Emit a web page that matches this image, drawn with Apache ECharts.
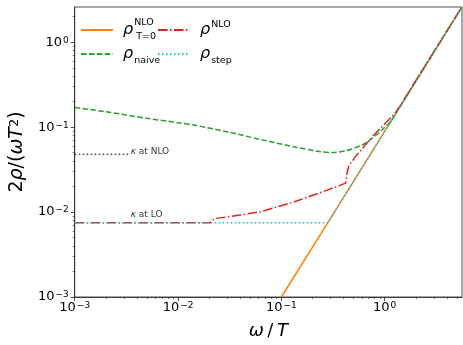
<!DOCTYPE html>
<html><head><meta charset="utf-8">
<script src="https://cdn.jsdelivr.net/npm/echarts@6/dist/echarts.min.js"></script>
<style>html,body{margin:0;padding:0;background:#fff}#c{width:463px;height:345px}</style>
</head><body><div id="c"></div>
<script>
// ---- data ----
const majorTicks = [0.001, 0.01, 0.1, 1];
const majorTickLabels = ['10{s|−3}', '10{s|−2}', '10{s|−1}', '10{s|0}'];
const xMinorTicks = [0.002,0.003,0.004,0.005,0.006,0.007,0.008,0.009,
  0.02,0.03,0.04,0.05,0.06,0.07,0.08,0.09,
  0.2,0.3,0.4,0.5,0.6,0.7,0.8,0.9, 2,3,4,5];
const yMinorTicks = [0.002,0.003,0.004,0.005,0.006,0.007,0.008,0.009,
  0.02,0.03,0.04,0.05,0.06,0.07,0.08,0.09,
  0.2,0.3,0.4,0.5,0.6,0.7,0.8,0.9, 2];

const omegaT0 = [0.1, 0.3, 1, 2, 5.6];
const rhoT0   = [0.001, 0.0085, 0.089, 0.345, 2.6];

const omegaNaive = [0.001,0.002,0.005,0.01,0.0148,0.0305,0.0632,0.131,0.234,0.313,0.419,0.603,0.75,0.933,1.16,1.4,2,5.6];
const rhoNaive   = [0.170,0.152,0.127,0.113,0.105,0.0877,0.0715,0.0589,0.0516,0.0502,0.0526,0.0616,0.0735,0.0917,0.120,0.175,0.355,2.62];

const omegaNLO = [0.001,0.0205,0.0212,0.0228,0.0305,0.0632,0.131,0.27,0.419,0.432,0.451,0.484,0.521,0.603,0.648,0.806,1.0,1.25,1.4,2,5.6];
const rhoNLO   = [0.00748,0.00748,0.0079,0.0084,0.0088,0.0101,0.0131,0.0179,0.0219,0.029,0.0355,0.0395,0.0452,0.055,0.0616,0.0838,0.109,0.145,0.175,0.352,2.61];

const omegaStep = [0.001, 0.281, 1, 2, 5.6];
const rhoStep   = [0.0075, 0.0075, 0.089, 0.345, 2.6];

const omegaKappaNLO = [0.001, 0.0034];
const rhoKappaNLO   = [0.048, 0.048];

const kappaOmega  = [0.0034, 0.0034];
const kappaRho    = [0.048, 0.0075];
const kappaLabels = ['{i|κ} at NLO', '{i|κ} at LO'];

const legendLabels = {
  rhoT0: '{r|ρ}{p|NLO}{b|T=0}',
  rhoNaive: '{r|ρ}{b|naive}',
  rhoNLO: '{r|ρ}{q|NLO}',
  rhoStep: '{r|ρ}{b|step}'
};

// ---- chart ----
const FONT = 'DejaVu Sans';
const zip = (a, b) => a.map((v, i) => [v, b[i]]);
function tickFmt(v) {
  let best = 0, bd = Infinity;
  majorTicks.forEach((t, i) => { const d = Math.abs(Math.log10(v) - Math.log10(t)); if (d < bd) { bd = d; best = i; } });
  return majorTickLabels[best];
}
const tickRich = { s: { fontSize: 9, fontFamily: FONT, color: '#000', verticalAlign: 'top', lineHeight: 9, padding: [0,0,0,1] } };

const legendRich = {
  r: { fontSize: 16, fontFamily: FONT, fontStyle: 'italic', color: '#000', lineHeight: 24, padding: [0,0,0,5] },
  p: { fontSize: 9.5, fontFamily: FONT, color: '#000', verticalAlign: 'top', lineHeight: 11, width: 1, padding: [0,0,0,1] },
  q: { fontSize: 9.5, fontFamily: FONT, color: '#000', verticalAlign: 'top', lineHeight: 11, padding: [2,0,0,1] },
  b: { fontSize: 9.5, fontFamily: FONT, color: '#000', verticalAlign: 'bottom', lineHeight: 11, padding: [0,0,0,1] }
};
function mkLegend(name, left, top) {
  return {
    data: [name], left: left, top: top, orient: 'vertical', padding: 0,
    itemWidth: 32, itemHeight: 14, selectedMode: false,
    itemStyle: { color: 'rgba(0,0,0,0)', borderColor: 'rgba(0,0,0,0)', borderWidth: 0 },
    formatter: n => legendLabels[n],
    textStyle: { color: '#000', fontFamily: FONT, rich: legendRich }
  };
}

const axisCommon = {
  type: 'log', logBase: 10, gridIndex: 0,
  splitLine: { show: false }, minorSplitLine: { show: false }
};

const chart = echarts.init(document.getElementById('c'), null, { renderer: 'canvas' });
chart.setOption({
  animation: false,
  backgroundColor: '#fff',
  grid: { left: 66, right: 1, top: 7, bottom: 41, show: true, borderColor: '#222', borderWidth: 0.8, containLabel: false },
  legend: [
    mkLegend('rhoT0', 80, 18),
    mkLegend('rhoNLO', 157, 18),
    mkLegend('rhoNaive', 80, 46),
    mkLegend('rhoStep', 157, 46)
  ],
  xAxis: [
    Object.assign({}, axisCommon, {
      min: 0.001, max: 5.6, position: 'bottom',
      axisLine: { show: true, lineStyle: { color: '#222', width: 0.8 } },
      axisTick: { show: true, length: 4, customValues: majorTicks, lineStyle: { color: '#222', width: 0.8 } },
      axisLabel: { show: true, customValues: majorTicks, margin: 4, formatter: tickFmt, color: '#000', fontSize: 13, fontFamily: FONT, rich: tickRich },
      name: '{i|ω}\u2009/\u2009{i|T}', nameLocation: 'middle', nameGap: 25,
      nameTextStyle: { fontSize: 18, fontFamily: FONT, color: '#000', rich: { i: { fontSize: 18, fontFamily: FONT, fontStyle: 'italic', color: '#000' } } }
    }),
    Object.assign({}, axisCommon, {
      min: 0.001, max: 5.6, position: 'bottom',
      axisLine: { show: false },
      axisTick: { show: true, length: 2, customValues: xMinorTicks, lineStyle: { color: '#222', width: 0.6 } },
      axisLabel: { show: false }
    })
  ],
  yAxis: [
    Object.assign({}, axisCommon, {
      min: 0.001, max: 2.6, position: 'left',
      axisLine: { show: true, lineStyle: { color: '#222', width: 0.8 } },
      axisTick: { show: true, length: 4, customValues: majorTicks, lineStyle: { color: '#222', width: 0.8 } },
      axisLabel: { show: true, customValues: majorTicks, margin: 6, formatter: tickFmt, color: '#000', fontSize: 13, fontFamily: FONT, rich: tickRich },
      name: '2{i|ρ}/({i|ωT}{s|2})', nameLocation: 'middle', nameGap: 37,
      nameTextStyle: { fontSize: 19, fontFamily: FONT, color: '#000', rich: {
        i: { fontSize: 19, fontFamily: FONT, fontStyle: 'italic', color: '#000' },
        s: { fontSize: 13, fontFamily: FONT, color: '#000', verticalAlign: 'top', lineHeight: 13 } } }
    }),
    Object.assign({}, axisCommon, {
      min: 0.001, max: 2.6, position: 'left',
      axisLine: { show: false },
      axisTick: { show: true, length: 2, customValues: yMinorTicks, lineStyle: { color: '#222', width: 0.6 } },
      axisLabel: { show: false }
    })
  ],
  series: [
    { name: 'rhoT0', type: 'line', data: zip(omegaT0, rhoT0), symbol: 'none', lineStyle: { color: '#ff7f0e', width: 1.5 }, itemStyle: { color: '#ff7f0e' }, z: 2 },
    { name: 'rhoNaive', type: 'line', data: zip(omegaNaive, rhoNaive), symbol: 'none', smooth: 0.3, lineStyle: { color: '#2ca02c', width: 1.5, type: [5.5, 2.4] }, itemStyle: { color: '#2ca02c' }, z: 3 },
    { name: 'rhoNLO', type: 'line', data: zip(omegaNLO, rhoNLO), symbol: 'none', lineStyle: { color: '#d62728', width: 1.5, type: [9.6, 2.4, 1.5, 2.4] }, itemStyle: { color: '#d62728' }, z: 4 },
    { name: 'rhoStep', type: 'line', data: zip(omegaStep, rhoStep), symbol: 'none', lineStyle: { color: '#17becf', width: 1.5, type: [1.5, 2.5] }, itemStyle: { color: '#17becf' }, z: 5 },
    { name: 'kappaNLO', type: 'line', data: zip(omegaKappaNLO, rhoKappaNLO), symbol: 'none', lineStyle: { color: '#000', width: 1.2, type: [1.5, 2.5] }, z: 6 },
    { name: 'kappaText', type: 'scatter', symbolSize: 0, z: 7,
      data: kappaOmega.map((w, i) => ({ value: [w, kappaRho[i]], label: { offset: [0, i === 0 ? -3 : -8] } })),
      label: { show: true, position: 'right', distance: 1, formatter: p => kappaLabels[p.dataIndex], color: '#000', fontSize: 9, fontFamily: FONT,
        rich: { i: { fontSize: 9, fontFamily: FONT, fontStyle: 'italic', color: '#000' } } },
      emphasis: { disabled: true }, silent: true }
  ]
});
</script></body></html>
